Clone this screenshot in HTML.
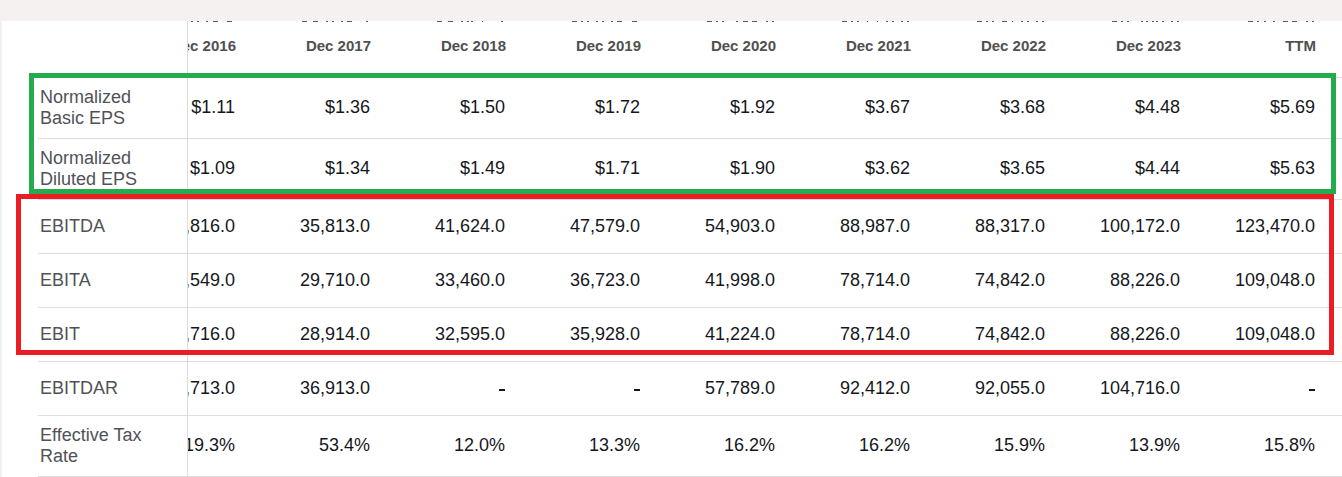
<!DOCTYPE html>
<html><head><meta charset="utf-8">
<style>
html,body{margin:0;padding:0;}
body{width:1342px;height:477px;overflow:hidden;position:relative;background:#f5f1f1;font-family:"Liberation Sans",sans-serif;}
#panel{position:absolute;left:2px;top:20px;width:1340px;height:457px;background:#fff;}
.t{position:absolute;white-space:nowrap;}
.h{font-size:15px;font-weight:bold;color:#505050;line-height:20px;height:20px;text-align:right;}
.v{font-size:18px;color:#15171d;line-height:20px;height:20px;text-align:right;}
.l{font-size:18px;color:#505257;line-height:21px;left:40px;}
.dv{position:absolute;left:38px;right:0;height:1px;background:#dedede;}
#clip{position:absolute;left:188px;top:0;right:0;bottom:0;overflow:hidden;}
#vline{position:absolute;left:187px;top:20px;width:1px;height:457px;background:#dcdcdc;}
#topbar{position:absolute;left:0;top:0;width:1342px;height:21px;background:#f5f1f1;}
.mk{position:absolute;top:21px;height:1px;background:#5a5a5a;}
.dash{position:absolute;height:2px;width:6px;background:#15171d;}
.box{position:absolute;box-sizing:border-box;}
</style></head><body>
<div id="panel"></div>

<div class="dv" style="top:77px"></div>
<div class="dv" style="top:138px"></div>
<div class="dv" style="top:199px"></div>
<div class="dv" style="top:253px"></div>
<div class="dv" style="top:307px"></div>
<div class="dv" style="top:361px"></div>
<div class="dv" style="top:415px"></div>
<div class="dv" style="top:476px"></div>
<div id="clip">
<div class="t h" style="right:1106px;top:36px">Dec 2016</div>
<div class="t h" style="right:971px;top:36px">Dec 2017</div>
<div class="t h" style="right:836px;top:36px">Dec 2018</div>
<div class="t h" style="right:701px;top:36px">Dec 2019</div>
<div class="t h" style="right:566px;top:36px">Dec 2020</div>
<div class="t h" style="right:431px;top:36px">Dec 2021</div>
<div class="t h" style="right:296px;top:36px">Dec 2022</div>
<div class="t h" style="right:161px;top:36px">Dec 2023</div>
<div class="t h" style="right:26px;top:36px">TTM</div>
<div class="t v" style="right:1107px;top:97px">$1.11</div>
<div class="t v" style="right:972px;top:97px">$1.36</div>
<div class="t v" style="right:837px;top:97px">$1.50</div>
<div class="t v" style="right:702px;top:97px">$1.72</div>
<div class="t v" style="right:567px;top:97px">$1.92</div>
<div class="t v" style="right:432px;top:97px">$3.67</div>
<div class="t v" style="right:297px;top:97px">$3.68</div>
<div class="t v" style="right:162px;top:97px">$4.48</div>
<div class="t v" style="right:27px;top:97px">$5.69</div>
<div class="t v" style="right:1107px;top:158px">$1.09</div>
<div class="t v" style="right:972px;top:158px">$1.34</div>
<div class="t v" style="right:837px;top:158px">$1.49</div>
<div class="t v" style="right:702px;top:158px">$1.71</div>
<div class="t v" style="right:567px;top:158px">$1.90</div>
<div class="t v" style="right:432px;top:158px">$3.62</div>
<div class="t v" style="right:297px;top:158px">$3.65</div>
<div class="t v" style="right:162px;top:158px">$4.44</div>
<div class="t v" style="right:27px;top:158px">$5.63</div>
<div class="t v" style="right:1107px;top:216px">30,816.0</div>
<div class="t v" style="right:972px;top:216px">35,813.0</div>
<div class="t v" style="right:837px;top:216px">41,624.0</div>
<div class="t v" style="right:702px;top:216px">47,579.0</div>
<div class="t v" style="right:567px;top:216px">54,903.0</div>
<div class="t v" style="right:432px;top:216px">88,987.0</div>
<div class="t v" style="right:297px;top:216px">88,317.0</div>
<div class="t v" style="right:162px;top:216px">100,172.0</div>
<div class="t v" style="right:27px;top:216px">123,470.0</div>
<div class="t v" style="right:1107px;top:270px">24,549.0</div>
<div class="t v" style="right:972px;top:270px">29,710.0</div>
<div class="t v" style="right:837px;top:270px">33,460.0</div>
<div class="t v" style="right:702px;top:270px">36,723.0</div>
<div class="t v" style="right:567px;top:270px">41,998.0</div>
<div class="t v" style="right:432px;top:270px">78,714.0</div>
<div class="t v" style="right:297px;top:270px">74,842.0</div>
<div class="t v" style="right:162px;top:270px">88,226.0</div>
<div class="t v" style="right:27px;top:270px">109,048.0</div>
<div class="t v" style="right:1107px;top:324px">23,716.0</div>
<div class="t v" style="right:972px;top:324px">28,914.0</div>
<div class="t v" style="right:837px;top:324px">32,595.0</div>
<div class="t v" style="right:702px;top:324px">35,928.0</div>
<div class="t v" style="right:567px;top:324px">41,224.0</div>
<div class="t v" style="right:432px;top:324px">78,714.0</div>
<div class="t v" style="right:297px;top:324px">74,842.0</div>
<div class="t v" style="right:162px;top:324px">88,226.0</div>
<div class="t v" style="right:27px;top:324px">109,048.0</div>
<div class="t v" style="right:1107px;top:378px">31,713.0</div>
<div class="t v" style="right:972px;top:378px">36,913.0</div>
<div class="dash" style="left:311px;top:389px"></div>
<div class="dash" style="left:446px;top:389px"></div>
<div class="t v" style="right:567px;top:378px">57,789.0</div>
<div class="t v" style="right:432px;top:378px">92,412.0</div>
<div class="t v" style="right:297px;top:378px">92,055.0</div>
<div class="t v" style="right:162px;top:378px">104,716.0</div>
<div class="dash" style="left:1121px;top:389px"></div>
<div class="t v" style="right:1107px;top:435px">19.3%</div>
<div class="t v" style="right:972px;top:435px">53.4%</div>
<div class="t v" style="right:837px;top:435px">12.0%</div>
<div class="t v" style="right:702px;top:435px">13.3%</div>
<div class="t v" style="right:567px;top:435px">16.2%</div>
<div class="t v" style="right:432px;top:435px">16.2%</div>
<div class="t v" style="right:297px;top:435px">15.9%</div>
<div class="t v" style="right:162px;top:435px">13.9%</div>
<div class="t v" style="right:27px;top:435px">15.8%</div>
<div class="mk" style="left:3px;width:2px"></div>
<div class="mk" style="left:9px;width:2px"></div>
<div class="mk" style="left:18px;width:2px"></div>
<div class="mk" style="left:25px;width:5px"></div>
<div class="mk" style="left:39px;width:5px"></div>
<div class="mk" style="left:114px;width:5px"></div>
<div class="mk" style="left:125px;width:5px"></div>
<div class="mk" style="left:138px;width:2px"></div>
<div class="mk" style="left:144px;width:2px"></div>
<div class="mk" style="left:153px;width:2px"></div>
<div class="mk" style="left:159px;width:5px"></div>
<div class="mk" style="left:178px;width:2px"></div>
<div class="mk" style="left:249px;width:5px"></div>
<div class="mk" style="left:260px;width:5px"></div>
<div class="mk" style="left:273px;width:2px"></div>
<div class="mk" style="left:279px;width:2px"></div>
<div class="mk" style="left:283px;width:2px"></div>
<div class="mk" style="left:294px;width:1px"></div>
<div class="mk" style="left:313px;width:2px"></div>
<div class="mk" style="left:384px;width:5px"></div>
<div class="mk" style="left:393px;width:2px"></div>
<div class="mk" style="left:399px;width:2px"></div>
<div class="mk" style="left:408px;width:2px"></div>
<div class="mk" style="left:414px;width:2px"></div>
<div class="mk" style="left:423px;width:2px"></div>
<div class="mk" style="left:429px;width:5px"></div>
<div class="mk" style="left:444px;width:5px"></div>
<div class="mk" style="left:519px;width:5px"></div>
<div class="mk" style="left:528px;width:2px"></div>
<div class="mk" style="left:534px;width:2px"></div>
<div class="mk" style="left:548px;width:2px"></div>
<div class="mk" style="left:555px;width:5px"></div>
<div class="mk" style="left:564px;width:5px"></div>
<div class="mk" style="left:578px;width:2px"></div>
<div class="mk" style="left:584px;width:2px"></div>
<div class="mk" style="left:654px;width:5px"></div>
<div class="mk" style="left:663px;width:2px"></div>
<div class="mk" style="left:669px;width:2px"></div>
<div class="mk" style="left:679px;width:1px"></div>
<div class="mk" style="left:689px;width:1px"></div>
<div class="mk" style="left:698px;width:2px"></div>
<div class="mk" style="left:704px;width:2px"></div>
<div class="mk" style="left:713px;width:2px"></div>
<div class="mk" style="left:719px;width:2px"></div>
<div class="mk" style="left:789px;width:5px"></div>
<div class="mk" style="left:798px;width:2px"></div>
<div class="mk" style="left:804px;width:2px"></div>
<div class="mk" style="left:814px;width:5px"></div>
<div class="mk" style="left:824px;width:1px"></div>
<div class="mk" style="left:833px;width:2px"></div>
<div class="mk" style="left:839px;width:2px"></div>
<div class="mk" style="left:848px;width:2px"></div>
<div class="mk" style="left:854px;width:2px"></div>
<div class="mk" style="left:924px;width:5px"></div>
<div class="mk" style="left:933px;width:2px"></div>
<div class="mk" style="left:939px;width:2px"></div>
<div class="mk" style="left:953px;width:2px"></div>
<div class="mk" style="left:958px;width:2px"></div>
<div class="mk" style="left:964px;width:2px"></div>
<div class="mk" style="left:968px;width:2px"></div>
<div class="mk" style="left:974px;width:2px"></div>
<div class="mk" style="left:983px;width:2px"></div>
<div class="mk" style="left:989px;width:2px"></div>
<div class="mk" style="left:1060px;width:5px"></div>
<div class="mk" style="left:1069px;width:2px"></div>
<div class="mk" style="left:1076px;width:2px"></div>
<div class="mk" style="left:1085px;width:2px"></div>
<div class="mk" style="left:1095px;width:5px"></div>
<div class="mk" style="left:1104px;width:5px"></div>
<div class="mk" style="left:1118px;width:2px"></div>
<div class="mk" style="left:1124px;width:2px"></div>
</div>
<div class="t l" style="top:87px">Normalized<br>Basic EPS</div>
<div class="t l" style="top:148px">Normalized<br>Diluted EPS</div>
<div class="t l" style="top:216px">EBITDA</div>
<div class="t l" style="top:270px">EBITA</div>
<div class="t l" style="top:324px">EBIT</div>
<div class="t l" style="top:378px">EBITDAR</div>
<div class="t l" style="top:425px">Effective Tax<br>Rate</div>
<div id="vline"></div>
<div id="topbar"></div>
<div class="box" style="left:29px;top:73px;width:1307px;height:121px;border:5px solid #24ab4e;"></div>
<div class="box" style="left:16px;top:194px;width:1318px;height:161px;border:5px solid #ec1c24;"></div>
</body></html>
